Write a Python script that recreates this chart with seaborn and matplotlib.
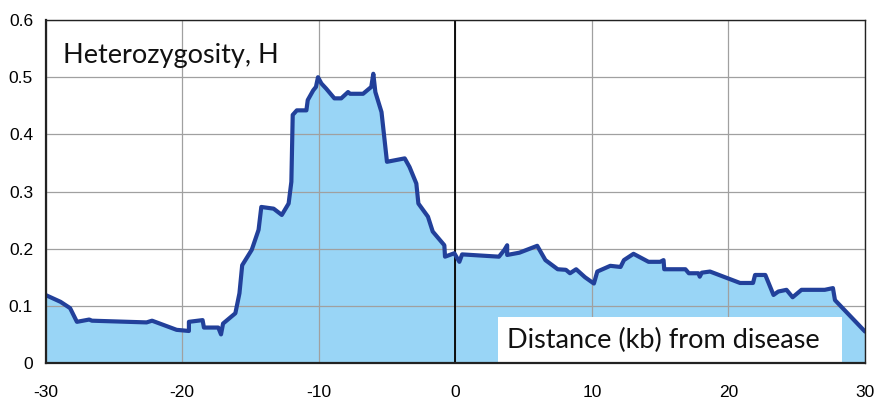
import matplotlib
matplotlib.use("Agg")
import matplotlib.pyplot as plt
import matplotlib.patches as mpatches
import seaborn as sns

# Heterozygosity vs distance from disease locus (kb)
dist_kb = [-30, -28.9, -28.2, -27.7, -26.8, -26.6, -22.6, -22.2, -20.4, -19.5,
           -19.5, -18.5, -18.4, -17.35, -17.15, -17.0, -16.1, -15.8, -15.6, -14.9,
           -14.4, -14.2, -13.3, -12.7, -12.2, -12.0, -11.9, -11.6, -10.9, -10.8,
           -10.4, -10.2, -10.05, -9.8, -9.45, -8.85, -8.35, -7.85, -7.7, -6.75,
           -6.15, -6.0, -5.85, -5.4, -5.0, -3.7, -3.35, -2.85, -2.7, -2.0,
           -1.65, -0.8, -0.75, -0.07, 0.3, 0.5, 3.2, 3.6, 3.8, 3.8,
           4.7, 6.0, 6.6, 7.5, 8.1, 8.4, 8.85, 9.5, 10.15, 10.4,
           11.35, 12.1, 12.35, 13.05, 14.15, 15.0, 15.25, 15.3, 16.85, 17.1,
           17.8, 17.9, 18.05, 18.65, 20.85, 21.8, 21.95, 22.7, 23.3, 23.65,
           24.25, 24.7, 25.35, 27.05, 27.65, 27.8, 30]
het_h = [0.119, 0.107, 0.096, 0.072, 0.076, 0.074, 0.071, 0.074, 0.058, 0.056,
         0.072, 0.075, 0.062, 0.062, 0.050, 0.069, 0.087, 0.122, 0.171, 0.198,
         0.233, 0.273, 0.270, 0.259, 0.279, 0.317, 0.434, 0.442, 0.442, 0.460,
         0.477, 0.483, 0.500, 0.489, 0.480, 0.463, 0.463, 0.474, 0.471, 0.471,
         0.483, 0.506, 0.474, 0.439, 0.352, 0.358, 0.343, 0.314, 0.279, 0.256,
         0.230, 0.206, 0.186, 0.192, 0.177, 0.190, 0.186, 0.198, 0.206, 0.189,
         0.193, 0.205, 0.180, 0.164, 0.163, 0.157, 0.164, 0.150, 0.139, 0.160,
         0.170, 0.168, 0.180, 0.191, 0.177, 0.177, 0.180, 0.164, 0.164, 0.157,
         0.157, 0.151, 0.158, 0.160, 0.140, 0.140, 0.154, 0.154, 0.119, 0.125,
         0.128, 0.115, 0.128, 0.128, 0.131, 0.110, 0.055]

x_ticks = [-30, -20, -10, 0, 10, 20, 30]
y_ticks = [0, 0.1, 0.2, 0.3, 0.4, 0.5, 0.6]
y_ticklabels = ["0", "0.1", "0.2", "0.3", "0.4", "0.5", "0.6"]

LINE = "#22409a"
FILL = "#99d5f6"

sns.set_theme(style="white")
plt.rcParams["font.family"] = ["Liberation Sans", "DejaVu Sans"]
plt.rcParams["axes.unicode_minus"] = False

fig = plt.figure(figsize=(8.75, 4.01), dpi=100)
ax = fig.add_axes([0.052, 0.0948, 0.9366, 0.8552])

ax.fill_between(dist_kb, het_h, 0, color=FILL, linewidth=0, zorder=1)
ax.grid(True, color="#a0a0a0", linewidth=0.9, zorder=2)
ax.set_axisbelow(False)
for gl in ax.get_xgridlines() + ax.get_ygridlines():
    gl.set_zorder(2)
ax.axvline(0, color="black", linewidth=1.3, zorder=3)

# white label box bottom right
ax.add_patch(mpatches.Rectangle((0.552, 0.0), 0.42, 0.134, transform=ax.transAxes,
                                facecolor="white", edgecolor="none", zorder=4))

sns.lineplot(x=dist_kb, y=het_h, estimator=None, sort=False, color=LINE,
             linewidth=3.0, ax=ax, zorder=5)

ax.set_xlim(-30, 30)
ax.set_ylim(0, 0.6)
ax.set_xticks(x_ticks)
ax.set_yticks(y_ticks)
ax.set_yticklabels(y_ticklabels)
ax.tick_params(axis="x", length=0, pad=16, labelsize=12.5, colors="black")
ax.tick_params(axis="y", length=0, pad=9, labelsize=12.5, colors="black")

for side, sp in ax.spines.items():
    sp.set_visible(True)
    sp.set_color("#222222")
    sp.set_zorder(6)
    sp.set_linewidth(1.6 if side in ("bottom", "left") else 1.0)

ax.text(0.021, 0.874, "Heterozygosity, H", transform=ax.transAxes,
        fontsize=19.5, family=["Lato", "DejaVu Sans"], color="#111111",
        va="baseline", ha="left", zorder=7)
ax.text(0.563, 0.044, "Distance (kb) from disease", transform=ax.transAxes,
        fontsize=19.5, family=["Lato", "DejaVu Sans"], color="#111111",
        va="baseline", ha="left", zorder=7)

fig.savefig("out.png", dpi=100)
